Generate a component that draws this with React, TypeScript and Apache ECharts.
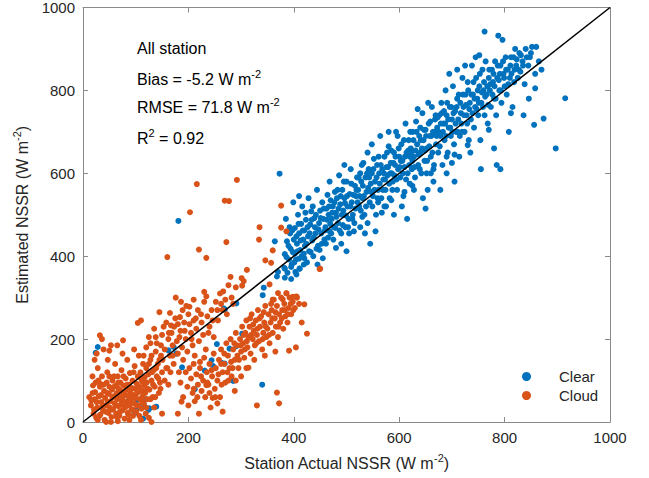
import React, { useEffect, useRef } from 'react';
import * as echarts from 'echarts';

const xTicks = [0, 200, 400, 600, 800, 1000];
const yTicks = [0, 200, 400, 600, 800, 1000];
const seriesNames = ['Clear', 'Cloud'];
const annotations = [
  '{a|All station}',
  '{a|Bias = -5.2 W m}{s|-2}',
  '{a|RMSE = 71.8 W m}{s|-2}',
  '{a|R}{s|2}{a| = 0.92}',
];
const oneToOne: [number, number][] = [[0, 0], [1000, 1000]];

const clearPoints: [number, number][] = [
  [114,8],[98,21],[101,29],[126,33],[139,37],[115,43],[88,55],[102,53],[120,55],[95,61],[89,49],[124,29],
  [28,181],[24,167],[172,181],[162,173],[177,165],[188,132],[212,79],[285,99],[340,90],[181,485],[373,599],
  [364,436],[343,324],[341,306],[370,362],[368,351],[383,348],[383,370],[395,374],[411,370],[405,356],
  [402,406],[419,406],[410,394],[291,286],[269,271],[302,213],[254,188],[278,177],[291,183],[244,149],
  [247,135],[263,143],[269,141],[231,124],[267,274],
  [382,372],[386,398],[390,425],[393,455],[396,380],[398,410],[400,440],[402,468],[404,392],[406,430],
  [408,500],[410,455],[412,415],[414,478],[416,520],[418,440],[420,395],[420,462],[388,360],[395,345],
  [403,362],[411,370],[419,380],[385,490],[399,530],[410,545],[392,470],
  [422,505],[424,430],[426,470],[428,540],[430,455],[432,410],[434,488],[436,520],[438,445],[440,470],
  [442,500],[444,560],[446,425],[448,480],[450,510],[452,455],[454,530],[456,490],[458,440],[460,470],
  [462,515],[464,548],[466,500],[468,460],[470,535],[425,385],[437,400],[449,415],[461,430],[445,380],
  [455,395],[468,580],
  [472,490],[474,520],[476,470],[478,555],[480,505],[482,540],[484,480],[486,595],[488,525],[490,455],
  [492,560],[494,510],[496,540],[498,470],[500,580],[502,520],[504,490],[506,550],[508,610],[510,530],
  [512,500],[514,460],[516,570],[518,545],[520,590],[475,440],[490,430],[505,455],[515,480],[496,620],
  [480,420],[500,412],
  [522,560],[524,520],[526,600],[528,580],[530,540],[532,625],[534,500],[536,590],[538,555],[540,650],
  [542,610],[544,530],[546,575],[548,600],[550,545],[552,635],[554,580],[556,500],[558,620],[560,560],
  [562,600],[564,690],[566,540],[568,610],[570,585],[526,470],[540,480],[555,460],[567,505],[545,430],
  [535,455],[560,530],[548,670],
  [572,640],[574,560],[576,615],[578,595],[580,665],[582,540],[584,625],[586,600],[588,580],[590,650],
  [592,620],[594,700],[596,560],[598,610],[600,640],[602,590],[604,670],[606,630],[608,545],[610,615],
  [612,720],[614,650],[616,600],[618,680],[620,640],[575,520],[590,500],[605,520],[615,490],[580,700],
  [597,690],[620,575],
  [622,660],[624,610],[626,700],[628,640],[630,590],[632,725],[634,670],[636,620],[638,690],[640,650],
  [642,600],[644,745],[646,680],[648,630],[650,705],[652,660],[654,560],[656,720],[658,690],[660,640],
  [662,760],[664,700],[666,620],[668,730],[670,670],[628,560],[645,540],[660,600],[640,710],[655,770],
  [665,580],[635,755],[650,515],
  [672,710],[674,650],[676,740],[678,690],[680,770],[682,620],[684,720],[686,680],[688,800],[690,740],
  [692,650],[694,710],[696,760],[698,690],[700,730],[702,810],[704,670],[706,750],[708,700],[710,780],
  [712,730],[714,640],[716,770],[718,720],[720,830],[678,560],[690,600],[705,580],[695,840],[710,850],
  [715,690],[700,625],
  [722,760],[724,700],[726,790],[728,740],[730,820],[732,680],[734,770],[736,730],[738,860],[740,790],
  [742,710],[744,760],[746,830],[748,780],[750,740],[752,810],[754,680],[756,770],[758,850],[760,800],
  [762,740],[764,870],[766,790],[768,720],[770,830],[745,880],[735,650],[755,610],[762,942],[725,860],
  [752,885],
  [772,800],[774,760],[776,850],[778,820],[780,780],[782,870],[784,740],[786,830],[788,932],[790,800],
  [792,860],[794,770],[796,922],[798,840],[800,810],[802,880],[804,790],[806,850],[808,700],[810,830],
  [812,880],[815,760],[818,820],[820,900],[785,620],[792,610],[780,660],
  [822,860],[825,830],[828,890],[830,845],[834,870],[838,815],[840,900],[845,860],[848,880],[852,905],
  [856,717],[858,840],[860,905],[865,870],[870,850],[874,732],[846,780],[836,740],
  [897,660],[915,781],[858,805],
  [383,405],[387,436],[391,392],[394,418],[397,462],[401,385],[405,448],[407,412],[409,478],[413,438],
  [415,400],[417,462],[421,425],[423,488],[427,448],[429,412],[431,476],[433,508],[435,438],[439,492],
  [441,455],[443,418],[447,465],[451,492],[453,430],[457,515],[459,462],[463,488],[465,445],[467,520],
  [469,478],[471,455],[473,505],[477,530],[479,468],[481,495],[483,560],[485,515],[487,462],[489,545],
  [491,500],[493,475],[495,580],[497,528],[499,498],[501,545],[503,470],[507,520],[509,575],[511,490],
  [513,548],[517,515],[519,560],[521,530],[523,590],[525,545],[527,510],[529,620],[531,570],[533,545],
  [537,520],[539,600],[541,565],[543,590],[547,555],[549,520],[551,610],[553,560],[557,590],[559,540],
  [561,640],[563,575],[565,620],[569,560],[571,600],[573,585],[577,650],[579,615],[581,575],[583,600],
  [585,655],[587,560],[589,625],[591,595],[593,640],[595,585],[599,660],[601,615],[603,630],[607,600],
  [609,680],[611,640],[613,585],[617,655],[619,620],[621,700],[623,650],[625,630],[627,680],[629,615],
  [631,655],[633,700],[637,645],[639,610],[641,680],[643,660],[647,705],[649,655],[651,690],[653,630],
  [657,665],[659,725],[661,690],[663,650],[667,700],[669,740],[671,690],[673,735],[675,700],[677,665],
  [679,720],[681,745],[683,700],[685,750],[687,720],[689,690],[691,770],[693,730],[697,710],[699,760],
  [701,700],[703,745],[707,720],[709,760],[711,700],[713,790],[717,745],[719,700],[721,790],[723,740],
  [727,765],[729,720],[731,800],[733,755],[737,790],[739,745],[741,820],[743,780],[747,755],[749,800],
  [751,770],[753,840],[757,795],[759,760],[761,820],[763,785],[767,810],[769,765],[771,850],[773,815],
  [777,790],[779,840],[781,810],[783,780],[787,860],[789,825],[791,840],[793,800],[797,870],[799,830],
  [803,850],[807,815],[811,860],[813,840],[817,880],[819,850],[823,875],[827,850],[831,885],[835,860],
  [842,880],[850,890],
  [530,495],[572,520],[610,555],[652,600],[690,640],[730,668],[770,705],[812,745],[585,535],[625,570],
  [665,610],[705,645],
];

const cloudPoints: [number, number][] = [
  [15,40],[18,70],[20,20],[22,55],[24,95],[25,10],[27,35],[28,130],[30,62],[32,85],[33,18],[35,48],
  [36,110],[38,28],[40,75],[41,5],[42,58],[44,40],[45,95],[46,120],[48,22],[49,68],[50,85],[51,35],
  [52,50],[54,12],[55,78],[56,100],[57,30],[58,62],[60,45],[61,140],[62,88],[63,20],[64,70],[65,55],
  [66,110],[67,38],[68,80],[69,15],[70,60],[71,95],[72,42],[73,125],[74,72],[75,28],[76,52],[77,88],
  [78,65],[79,8],[80,35],[81,105],[82,78],[83,48],[84,150],[85,22],[86,62],[87,90],[88,40],[89,118],
  [90,70],[91,55],[92,30],[93,82],[94,100],[95,15],[96,65],[97,45],[98,135],[99,80],[100,58],[101,25],
  [102,92],[103,70],[104,110],[105,40],[106,160],[107,85],[108,55],[109,120],[110,75],[111,32],[112,98],
  [113,62],[114,140],[115,45],[116,88],[117,108],[118,70],[119,20],[120,130],[121,95],[122,55],[124,115],
  [126,78],[128,150],[130,100],[132,60],[134,125],[136,85],[138,170],[140,110],[142,140],[144,70],
  [146,95],[148,160],[150,120],[28,5],[33,92],[47,150],[53,0],[59,110],[66,2],[75,165],[88,5],[97,175],
  [12,60],[18,110],[26,165],[39,175],[22,150],[36,200],[53,185],[65,185],[110,5],[125,10],[135,35],
  [44,0],[130,0],[187,49],[234,89],
  [16,52],[19,88],[21,30],[23,72],[26,48],[29,100],[31,15],[34,65],[37,40],[39,90],[43,25],[46,70],
  [47,48],[50,110],[53,30],[56,60],[59,85],[62,40],[64,12],[67,95],[70,25],[72,75],[74,50],[77,110],
  [79,38],[82,65],[84,90],[86,18],[89,50],[91,80],[94,30],[96,120],[99,60],[102,40],[104,85],[107,15],
  [110,105],[112,50],[115,75],[118,95],[120,35],[123,80],[125,140],[128,55],[131,120],[133,90],[137,60],
  [139,130],[143,105],[147,80],[151,150],[155,100],[158,130],[162,90],[166,120],[170,160],
  [104,239],[110,245],[76,197],[50,172],[32,209],[145,265],[165,263],[189,270],[202,278],[184,253],
  [167,233],[180,236],[202,236],[120,180],[125,205],[130,160],[135,225],[140,190],[145,150],[150,210],
  [155,175],[158,240],[160,130],[162,200],[165,160],[168,215],[170,185],[172,140],[175,250],[178,195],
  [180,165],[182,120],[185,220],[188,180],[190,150],[192,240],[195,200],[198,170],[200,260],[202,130],
  [205,215],[208,185],[210,245],[212,160],[215,225],[218,270],[220,195],[222,145],[225,240],[228,210],
  [230,290],[233,175],[236,255],[240,230],[244,270],[248,205],[252,290],[256,245],[260,310],[265,270],
  [270,295],[276,330],[282,300],[290,325],[160,398],[220,416],[234,396],[216,574],[292,584],[269,534],
  [277,533],[203,506],[272,434],[335,470],[334,440],[376,522],[376,469],[386,460],[360,414],[346,390],
  [357,384],[311,367],[280,350],[301,347],[305,340],[302,329],[354,332],[230,314],[234,303],[266,315],
  [450,370],[449,369],
  [115,160],[128,190],[138,205],[148,185],[153,230],[163,215],[173,230],[183,205],[193,220],[206,200],
  [214,250],[224,260],[238,215],[246,245],[255,270],[262,285],[273,260],[285,285],[196,280],[186,290],
  [176,300],[210,295],
  [185,95],[190,60],[195,120],[198,85],[200,40],[205,105],[208,70],[210,140],[212,50],[215,115],
  [218,90],[220,20],[222,130],[225,75],[228,100],[230,155],[232,60],[235,120],[238,90],[240,140],
  [242,35],[245,110],[248,165],[250,80],[252,130],[255,100],[258,150],[260,60],[262,175],[265,120],
  [268,140],[270,95],[272,190],[275,160],[278,130],[280,200],[282,110],[285,175],[288,150],[290,215],
  [292,185],[295,130],[298,200],[300,170],[302,230],[304,190],[306,155],[308,215],[310,245],[312,180],
  [314,205],[316,230],[318,165],[320,260],[322,200],[324,220],[326,185],[328,245],[330,210],[332,270],
  [334,195],[336,230],[338,255],[340,175],[342,215],[344,240],[346,280],[348,205],[350,225],[352,260],
  [354,190],[356,240],[358,270],[360,215],[362,295],[364,250],[366,230],[368,280],[370,205],[372,260],
  [374,240],[376,300],[378,270],[380,225],[382,285],[384,255],[386,310],[388,240],[390,275],[392,300],
  [395,260],[398,290],[402,275],[406,300],[410,285],[404,180],[415,240],[372,45],[330,40],[290,100],
  [265,25],[255,45],[150,20],[180,20],[240,70],[300,110],[325,150],[345,160],[310,130],[365,170],
  [288,75],[368,71],[425,213],[391,172],[420,284],[314,131],[246,58],[370,311],[386,311],[398,302],
  [405,303],[360,295],[379,296],
  [210,80],[217,60],[224,110],[236,95],[244,125],[251,60],[257,115],[263,90],[268,165],[274,120],
  [281,145],[287,190],[293,160],[299,185],[305,210],[311,195],[317,250],[323,235],[329,190],[335,250],
  [341,200],[347,230],[353,210],[359,250],[365,265],[371,230],[377,250],[383,270],[389,260],[394,285],
  [399,270],[343,265],[357,285],[331,225],[319,210],[307,175],[296,150],[284,130],[276,100],[262,140],
];

const BLUE = '#0072BD';
const ORANGE = '#D95319';
const FONT = "'Liberation Sans', Arial, Helvetica, sans-serif";

export default function App() {
  const ref = useRef<HTMLDivElement>(null);
  useEffect(() => {
    const chart = echarts.init(ref.current!, null, { renderer: 'svg' });
    const main = { fontSize: 16, lineHeight: 22, fontFamily: FONT, color: '#000' };
    const sup = { fontSize: 11, lineHeight: 11, verticalAlign: 'top', fontFamily: FONT, color: '#000' };
    const axisMain = { fontSize: 16, lineHeight: 22, fontFamily: FONT, color: '#262626' };
    const axisSup = { fontSize: 11, lineHeight: 11, verticalAlign: 'top', fontFamily: FONT, color: '#262626' };
    const axisCommon = {
      type: 'value',
      min: 0,
      max: 1000,
      interval: 200,
      axisLine: { show: true, onZero: false, lineStyle: { color: '#8a8a8a', width: 1 } },
      axisTick: { show: true, inside: true, length: 5, lineStyle: { color: '#8a8a8a' } },
      splitLine: { show: false },
    };
    const annY = [51, 79, 107, 138];
    chart.setOption({
      animation: false,
      grid: { left: 83, right: 39, top: 6, bottom: 56, containLabel: false },
      xAxis: [
        {
          ...axisCommon,
          position: 'bottom',
          axisLabel: { fontSize: 15, color: '#262626', margin: 8, fontFamily: FONT, formatter: (v: number) => (xTicks.includes(v) ? String(v) : '') },
          name: '{a|Station Actual NSSR (W m}{s|-2}{a|)}',
          nameLocation: 'middle',
          nameGap: 30,
          nameTextStyle: { rich: { a: axisMain, s: axisSup } },
        },
        { ...axisCommon, position: 'top', axisLabel: { show: false } },
      ],
      yAxis: [
        {
          ...axisCommon,
          position: 'left',
          axisLabel: { fontSize: 15, color: '#262626', margin: 8, fontFamily: FONT, formatter: (v: number) => (yTicks.includes(v) ? String(v) : '') },
          name: '{a|Estimated NSSR (W m}{s|-2}{a|)}',
          nameLocation: 'middle',
          nameGap: 48,
          nameTextStyle: { rich: { a: axisMain, s: axisSup } },
        },
        { ...axisCommon, position: 'right', axisLabel: { show: false } },
      ],
      legend: {
        data: seriesNames,
        orient: 'vertical',
        left: 517,
        top: 364,
        itemWidth: 9,
        itemHeight: 9,
        itemGap: 4,
        icon: 'circle',
        textStyle: { fontSize: 15, color: '#262626', fontFamily: FONT, padding: [0, 0, 0, 23] },
      },
      graphic: annotations.map((t, i) => ({
        type: 'text',
        left: 137,
        top: annY[i] - 11,
        style: { text: t, rich: { a: main, s: sup }, fill: '#000' },
        silent: true,
      })),
      series: [
        {
          name: seriesNames[0],
          type: 'scatter',
          data: clearPoints,
          symbol: 'circle',
          symbolSize: 6,
          itemStyle: { color: BLUE, opacity: 1 },
          xAxisIndex: 0,
          yAxisIndex: 0,
        },
        {
          name: seriesNames[1],
          type: 'scatter',
          data: cloudPoints,
          symbol: 'circle',
          symbolSize: 6,
          itemStyle: { color: ORANGE, opacity: 1 },
          xAxisIndex: 0,
          yAxisIndex: 0,
        },
        {
          name: '1:1',
          type: 'line',
          data: oneToOne,
          symbol: 'none',
          lineStyle: { color: '#000', width: 1.5 },
          xAxisIndex: 0,
          yAxisIndex: 0,
          silent: true,
          z: 5,
        },
      ],
    });
    return () => chart.dispose();
  }, []);
  return <div ref={ref} style={{ position: 'fixed', left: 0, top: 0, width: 649, height: 478, background: '#fff' }} />;
}
